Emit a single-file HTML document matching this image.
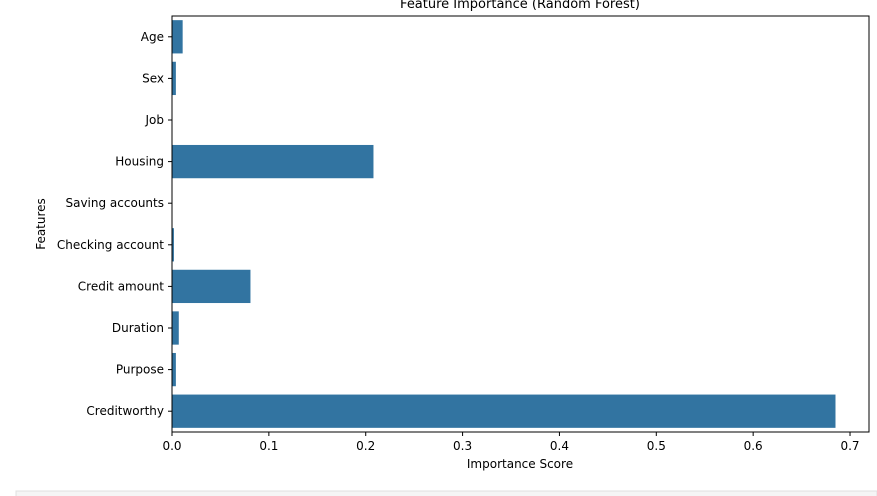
<!DOCTYPE html>
<html><head><meta charset="utf-8"><style>
html,body{margin:0;padding:0;background:#fff;width:877px;height:496px;overflow:hidden}
svg text{font-family:"DejaVu Sans","Liberation Sans",sans-serif;fill:#000}
</style></head><body>
<svg width="877" height="496" xmlns="http://www.w3.org/2000/svg">
<rect x="16" y="491" width="861" height="10" fill="#f5f5f5" stroke="#e0e0e0"/>
<text x="520" y="8" font-size="13" text-anchor="middle">Feature Importance (Random Forest)</text>
<g id="plot"></g>
<text x="520" y="468" font-size="12" text-anchor="middle">Importance Score</text>
<text transform="translate(45,224) rotate(-90)" font-size="12" text-anchor="middle">Features</text>
</svg>
<script>
const categories=["Age","Sex","Job","Housing","Saving accounts","Checking account","Credit amount","Duration","Purpose","Creditworthy"];
const values=[0.011,0.004,0.0005,0.208,0.0005,0.002,0.081,0.007,0.004,0.685];
const xTicks=[0,0.1,0.2,0.3,0.4,0.5,0.6,0.7];
const xTickLabels=["0.0","0.1","0.2","0.3","0.4","0.5","0.6","0.7"];
const L=172,R=869,T=16,B=432,XMAX=(869-172)/968.6;
const NS="http://www.w3.org/2000/svg";
const g=document.getElementById('plot');
const xs=v=>L+v*968.6;
const band=(B-T)/categories.length;
const yc=i=>T+band*(i+0.5);
function mk(t,a){const e=document.createElementNS(NS,t);for(const k in a)e.setAttribute(k,a[k]);g.appendChild(e);return e;}
categories.forEach((c,i)=>{
  const b=mk('rect',{x:L,y:yc(i)-band*0.4,width:Math.max(xs(values[i])-L,0.5),height:band*0.8,fill:'#3274a1'});
  
  
  const tk=mk('line',{x1:L-4,x2:L,y1:yc(i),y2:yc(i),stroke:'#000'});
  
  
  const t=mk('text',{x:L-8,y:yc(i)+4,'font-size':12,'text-anchor':'end'});
  t.textContent=c;
  
  
});
xTicks.forEach((v,i)=>{
  const tk=mk('line',{x1:xs(v),x2:xs(v),y1:B,y2:B+4,stroke:'#000'});
  
  
  const t=mk('text',{x:xs(v),y:B+18,'font-size':12,'text-anchor':'middle'});
  t.textContent=xTickLabels[i];
  
  
});
const f=mk('rect',{x:L,y:T,width:R-L,height:B-T,fill:'none',stroke:'#000','stroke-width':1});


</script>
</body></html>
